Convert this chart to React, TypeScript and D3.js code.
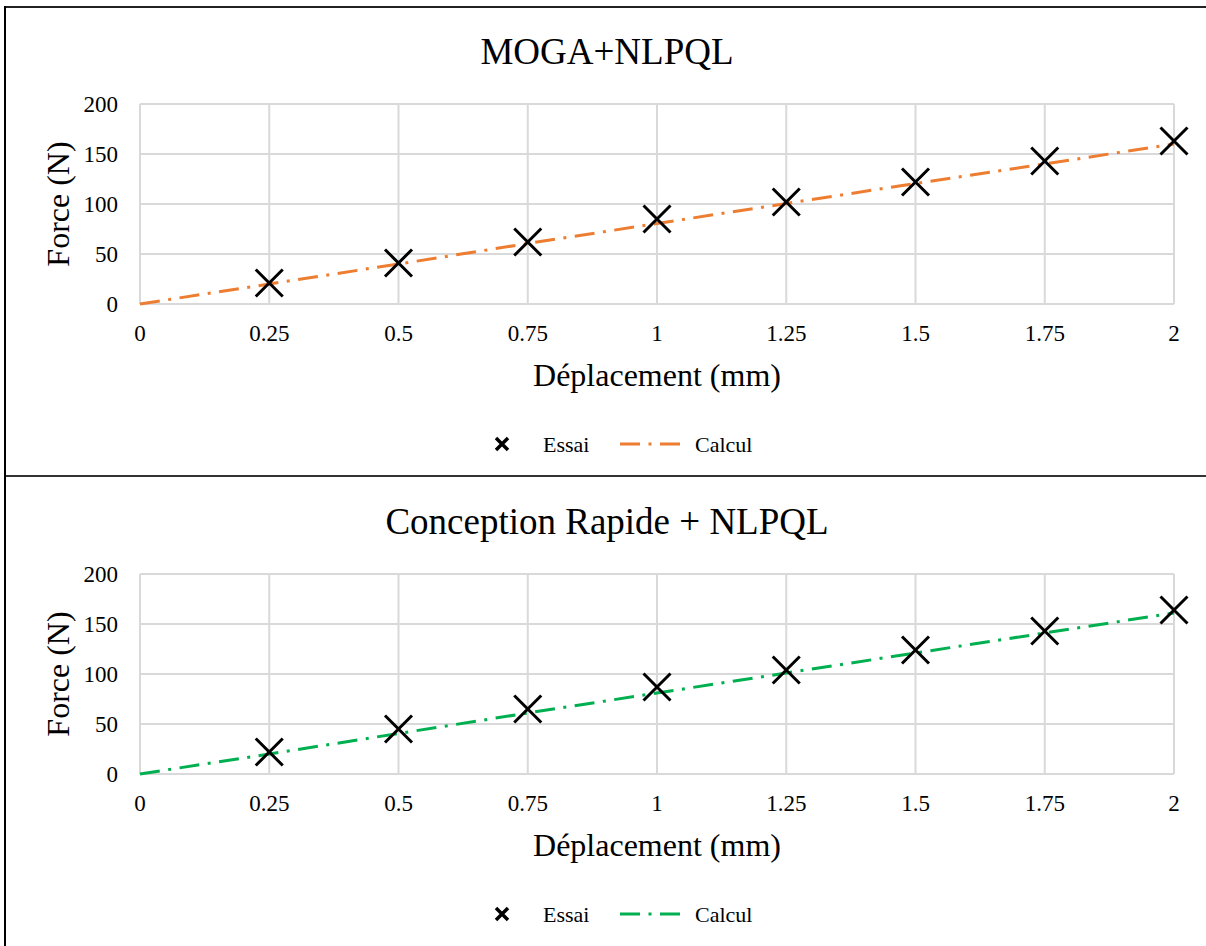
import React from "react";
import * as d3 from "d3";

const xValues = [0, 0.25, 0.5, 0.75, 1, 1.25, 1.5, 1.75, 2];
const essaiX = [0.25, 0.5, 0.75, 1, 1.25, 1.5, 1.75, 2];
const xTicks = [0, 0.25, 0.5, 0.75, 1, 1.25, 1.5, 1.75, 2];
const yTicks = [0, 50, 100, 150, 200];

const mogaEssai = [21, 41, 62, 85, 102, 122, 143, 163];
const mogaCalcul = [0, 20, 40, 60.5, 80.5, 100.5, 120.5, 140, 160];

const rapideEssai = [22, 45, 65, 87, 104, 124, 143, 164];
const rapideCalcul = [0, 20, 40.5, 61, 81, 101, 121, 141, 161];

const titles = ["MOGA+NLPQL", "Conception Rapide + NLPQL"];
const lineColors = ["#ED7D31", "#00B050"];
const xAxisTitle = "Déplacement (mm)";
const yAxisTitle = "Force (N)";
const legendLabels = ["Essai", "Calcul"];

const FONT = "'Liberation Serif', 'Times New Roman', serif";
const DASH = "20,8.5,3,8.5";

function Chart({ offset, title, essai, calcul, color }: any) {
  const x = d3.scaleLinear().domain([0, 2]).range([140, 1174]);
  const y = d3.scaleLinear().domain([0, 200]).range([304 + offset, 104 + offset]);
  const line = d3
    .line<number>()
    .x((_, i) => x(xValues[i]))
    .y((d) => y(d));
  const ms = 13.5;
  return (
    <g>
      <text x={607} y={64 + offset} textAnchor="middle" fontSize={37} fontFamily={FONT} fill="#000">
        {title}
      </text>
      {yTicks.map((t) => (
        <line key={"gy" + t} x1={x(0)} x2={x(2)} y1={y(t)} y2={y(t)} stroke="#D9D9D9" strokeWidth={2} />
      ))}
      {xTicks.map((t) => (
        <line key={"gx" + t} x1={x(t)} x2={x(t)} y1={y(0)} y2={y(200)} stroke="#D9D9D9" strokeWidth={2} />
      ))}
      {yTicks.map((t) => (
        <text key={"ty" + t} x={118} y={y(t)} dy="0.35em" textAnchor="end" fontSize={23} fontFamily={FONT} fill="#000">
          {t}
        </text>
      ))}
      {xTicks.map((t) => (
        <text key={"tx" + t} x={x(t)} y={341 + offset} textAnchor="middle" fontSize={23} fontFamily={FONT} fill="#000">
          {String(t)}
        </text>
      ))}
      <text x={657} y={386 + offset} textAnchor="middle" fontSize={32} fontFamily={FONT} fill="#000">
        {xAxisTitle}
      </text>
      <text
        transform={`translate(69,${204 + offset}) rotate(-90)`}
        textAnchor="middle"
        fontSize={32}
        fontFamily={FONT}
        fill="#000"
      >
        {yAxisTitle}
      </text>
      <path d={line(calcul) || ""} fill="none" stroke={color} strokeWidth={3} strokeDasharray={DASH} />
      {essai.map((v: number, i: number) => {
        const cx = x(essaiX[i]);
        const cy = y(v);
        return (
          <path
            key={"m" + i}
            d={`M${cx - ms},${cy - ms}L${cx + ms},${cy + ms}M${cx - ms},${cy + ms}L${cx + ms},${cy - ms}`}
            stroke="#000"
            strokeWidth={3}
            fill="none"
          />
        );
      })}
      <path
        d={`M${502 - 6},${444 + offset - 6}L${502 + 6},${444 + offset + 6}M${502 - 6},${444 + offset + 6}L${502 + 6},${444 + offset - 6}`}
        stroke="#000"
        strokeWidth={3.5}
        fill="none"
      />
      <text x={543} y={452 + offset} fontSize={22} fontFamily={FONT} fill="#000">
        {legendLabels[0]}
      </text>
      <line x1={620} x2={681} y1={444 + offset} y2={444 + offset} stroke={color} strokeWidth={3} strokeDasharray={DASH} />
      <text x={695} y={452 + offset} fontSize={22} fontFamily={FONT} fill="#000">
        {legendLabels[1]}
      </text>
    </g>
  );
}

export default function App() {
  return (
    <svg
      width={1206}
      height={946}
      style={{ position: "absolute", left: 0, top: 0, background: "#fff" }}
    >
      <rect x={0} y={0} width={1206} height={946} fill="#fff" />
      <Chart offset={0} title={titles[0]} essai={mogaEssai} calcul={mogaCalcul} color={lineColors[0]} />
      <Chart offset={470} title={titles[1]} essai={rapideEssai} calcul={rapideCalcul} color={lineColors[1]} />
      <line x1={4} x2={1206} y1={7} y2={7} stroke="#222" strokeWidth={2} />
      <line x1={4} x2={1206} y1={476} y2={476} stroke="#333" strokeWidth={2} />
      <line x1={5} x2={5} y1={6} y2={946} stroke="#000" strokeWidth={2} />
    </svg>
  );
}
